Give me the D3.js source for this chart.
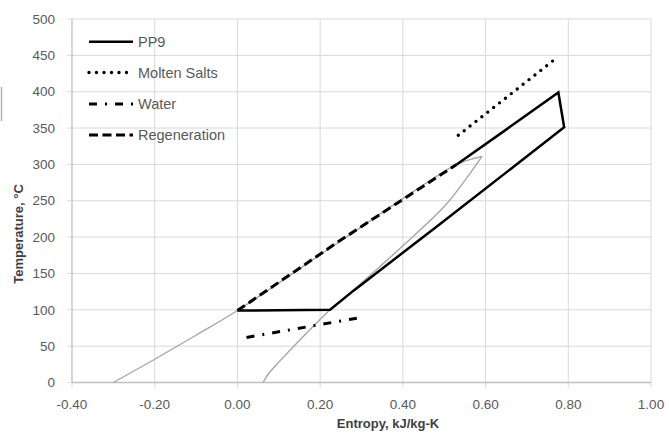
<!DOCTYPE html>
<html>
<head>
<meta charset="utf-8">
<script src="https://cdn.jsdelivr.net/npm/d3@7"></script>
<style>
  body { margin: 0; background: #fff; }
  svg { display: block; font-family: "Liberation Sans", Arial, sans-serif; }
</style>
</head>
<body>
<svg id="chart" width="669" height="434"></svg>
<script>
// series names shown in the legend
const seriesNames = ["PP9", "Molten Salts", "Water", "Regeneration"];

// x = entropy (kJ/kg-K), y = temperature (C)
const pp9X = [0.00, 0.224, 0.28, 0.49, 0.790, 0.776, 0.66, 0.53];
const pp9Y = [99, 100, 126, 218, 351, 399, 352, 300];

const saltsX = [0.534, 0.773];
const saltsY = [340, 447];

const waterX = [0.022, 0.304];
const waterY = [62, 90];

const regenX = [0.00, 0.25, 0.53];
const regenY = [99, 196, 300];

// saturation dome (grey, no legend entry)
const domeX = [-0.300, -0.200, -0.100, 0.00, 0.25, 0.527, 0.565, 0.585, 0.591, 0.585, 0.55, 0.50, 0.40, 0.28, 0.224, 0.183, 0.10, 0.075, 0.062];
const domeY = [0, 32, 65, 99, 195, 299, 307, 310, 311, 306, 278, 242, 188, 127, 100, 77, 28, 12, 0];

const xTicks = [-0.4, -0.2, 0, 0.2, 0.4, 0.6, 0.8, 1.0];
const yTicks = [0, 50, 100, 150, 200, 250, 300, 350, 400, 450, 500];

const margin = { top: 19, right: 18, bottom: 51.5, left: 72 };
let svg = d3.select("#chart");
let width = +svg.attr("width");
let height = +svg.attr("height");

let xScale = d3.scaleLinear()
  .domain([-0.4, 1.0])
  .range([margin.left, width - margin.right]);

let yScale = d3.scaleLinear()
  .domain([0, 500])
  .range([height - margin.bottom, margin.top]);

// stray border fragment at the left edge of the original image
svg.append("line")
  .attr("x1", 1.5).attr("x2", 1.5)
  .attr("y1", 87).attr("y2", 121)
  .attr("stroke", "#b0b0b0")
  .attr("stroke-width", 1.5);

// gridlines
svg.append("g")
  .selectAll("line")
  .data(xTicks)
  .enter()
  .append("line")
  .attr("x1", d => xScale(d)).attr("x2", d => xScale(d))
  .attr("y1", yScale(500)).attr("y2", yScale(0) + 5)
  .attr("stroke", "#d9d9d9")
  .attr("stroke-width", 1);

svg.append("g")
  .selectAll("line")
  .data(yTicks)
  .enter()
  .append("line")
  .attr("x1", xScale(-0.4) - 5).attr("x2", xScale(1.0))
  .attr("y1", d => yScale(d)).attr("y2", d => yScale(d))
  .attr("stroke", "#d9d9d9")
  .attr("stroke-width", 1);

// axis lines
svg.append("line")
  .attr("x1", xScale(-0.4)).attr("x2", xScale(-0.4))
  .attr("y1", yScale(500)).attr("y2", yScale(0))
  .attr("stroke", "#bfbfbf").attr("stroke-width", 1);
svg.append("line")
  .attr("x1", xScale(-0.4)).attr("x2", xScale(1.0))
  .attr("y1", yScale(0)).attr("y2", yScale(0))
  .attr("stroke", "#bfbfbf").attr("stroke-width", 1.5);

// tick labels
svg.append("g")
  .selectAll("text")
  .data(yTicks)
  .enter()
  .append("text")
  .attr("x", xScale(-0.4) - 17)
  .attr("y", d => yScale(d))
  .attr("dy", "0.35em")
  .attr("text-anchor", "end")
  .attr("font-size", "13.5px")
  .attr("fill", "#595959")
  .text(d => d);

// hyphen-minus like the original, not the unicode minus
let fmtX = d => d3.format(".2f")(d).replace("\u2212", "-");

svg.append("g")
  .selectAll("text")
  .data(xTicks)
  .enter()
  .append("text")
  .attr("x", d => xScale(d))
  .attr("y", yScale(0) + 22)
  .attr("dy", "0.35em")
  .attr("text-anchor", "middle")
  .attr("font-size", "13.5px")
  .attr("fill", "#595959")
  .text(fmtX);

// axis titles
svg.append("text")
  .attr("x", 388)
  .attr("y", 423)
  .attr("dy", "0.35em")
  .attr("text-anchor", "middle")
  .attr("font-size", "13px")
  .attr("font-weight", "bold")
  .attr("fill", "#404040")
  .text("Entropy, kJ/kg-K");

svg.append("text")
  .attr("transform", "translate(18,234) rotate(-90)")
  .attr("dy", "0.35em")
  .attr("text-anchor", "middle")
  .attr("font-size", "13px")
  .attr("font-weight", "bold")
  .attr("fill", "#404040")
  .text("Temperature, \u00B0C");

let line = d3.line()
  .x(d => xScale(d[0]))
  .y(d => yScale(d[1]));

let zipXY = (xs, ys) => xs.map((x, i) => [x, ys[i]]);

// saturation dome, smoothed
let smoothLine = d3.line()
  .x(d => xScale(d[0]))
  .y(d => yScale(d[1]))
  .curve(d3.curveCatmullRom.alpha(0.5));

svg.append("path")
  .datum(zipXY(domeX, domeY))
  .attr("d", smoothLine)
  .attr("fill", "none")
  .attr("stroke", "#a6a6a6")
  .attr("stroke-width", 1.4);

const styles = [
  { dash: null, cap: "butt", w: 2.5 },
  { dash: "0 7.5", cap: "round", w: 3.4 },
  { dash: "8 8 2 8", cap: "butt", w: 3 },
  { dash: "9 4.5", cap: "butt", w: 3 }
];

const seriesData = [
  zipXY(pp9X, pp9Y),
  zipXY(saltsX, saltsY),
  zipXY(waterX, waterY),
  zipXY(regenX, regenY)
];

seriesData.forEach((pts, i) => {
  let p = svg.append("path")
    .datum(pts)
    .attr("d", line)
    .attr("fill", "none")
    .attr("stroke", "#000")
    .attr("stroke-width", styles[i].w)
    .attr("stroke-linecap", styles[i].cap)
    .attr("stroke-linejoin", "miter");
  if (styles[i].dash) p.attr("stroke-dasharray", styles[i].dash);
});

// legend
const legendRows = [41.7, 72.5, 104, 135];
let legend = svg.append("g");
seriesNames.forEach((name, i) => {
  let l = legend.append("line")
    .attr("x1", 89).attr("x2", 133)
    .attr("y1", legendRows[i]).attr("y2", legendRows[i])
    .attr("stroke", "#000")
    .attr("stroke-width", styles[i].w)
    .attr("stroke-linecap", styles[i].cap);
  if (styles[i].dash) l.attr("stroke-dasharray", styles[i].dash);
  legend.append("text")
    .attr("x", 138)
    .attr("y", legendRows[i])
    .attr("dy", "0.35em")
    .attr("font-size", "14.5px")
    .attr("fill", "#595959")
    .text(name);
});
</script>
</body>
</html>
